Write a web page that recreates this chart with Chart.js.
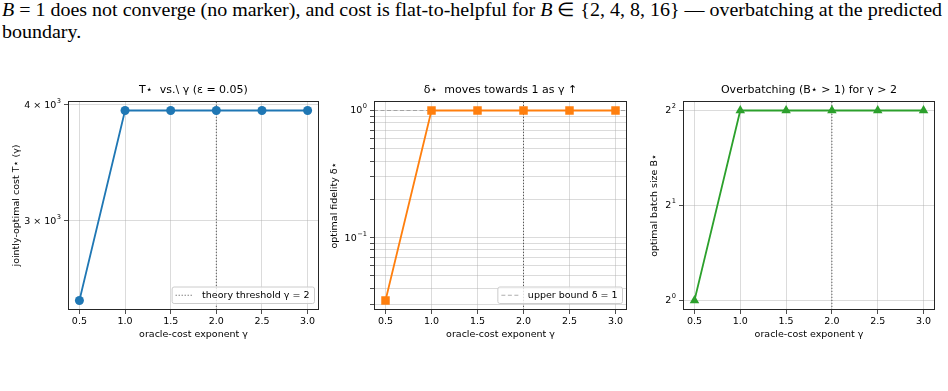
<!DOCTYPE html>
<html>
<head>
<meta charset="utf-8">
<script src="https://cdn.jsdelivr.net/npm/chart.js@4.4.0/dist/chart.umd.min.js"></script>
<style>
  html, body { margin: 0; padding: 0; background: #fff; }
  body { width: 948px; height: 391px; position: relative; overflow: hidden; }
  #texto { position: absolute; left: 2px; top: -1px; font-family: 'Liberation Serif', serif; font-size: 19px;
           line-height: 22px; color: #000; white-space: nowrap; transform-origin: 0 0; }
</style>
</head>
<body>
<div id="texto"><span id="linha1"><i>B</i> = 1 does not converge (no marker), and cost is flat-to-helpful for <i>B</i> ∈ {2, 4, 8, 16} — overbatching at the predicted</span><br>boundary.</div>
<canvas id="g1"></canvas>
<canvas id="g2"></canvas>
<canvas id="g3"></canvas>
<script>
// dados
const gamas = [0.5, 1.0, 1.5, 2.0, 2.5, 3.0];
const custoOtimo = [2460, 3945, 3945, 3945, 3945, 3945];
const fidelidadeOtima = [0.032, 1, 1, 1, 1, 1];
const loteOtimo = [1, 4, 4, 4, 4, 4];

const ticksX = [0.5, 1.0, 1.5, 2.0, 2.5, 3.0];
const ticksCusto = [3000, 4000];
const rotulosCusto = [['3 × 10', '3'], ['4 × 10', '3']];
const ticksFidelidade = [0.03, 0.04, 0.05, 0.06, 0.07, 0.08, 0.09, 0.1, 0.2, 0.3, 0.4, 0.5, 0.6, 0.7, 0.8, 0.9, 1];
const rotulosFidelidade = { 0.1: ['10', '−1'], 1: ['10', '0'] };
const ticksLote = [1, 2, 4];
const rotulosLote = [['2', '0'], ['2', '1'], ['2', '2']];

const limiarGama = 2;
const limiteDelta = 1;

const TOPO = 84, BASE = 342, AREA_TOPO = 101, AREA_BASE = 310;
const LARG_Y = 60;
const FONTE = 'DejaVu Sans';
const TAM = 9.5, TAM_TITULO = 11;
const COR_GRADE = 'rgba(176,176,176,0.45)';

function margemLin(v, f = 0.05) {
  const a = Math.min(...v), b = Math.max(...v), m = (b - a) * f;
  return [a - m, b + m];
}
function margemLog(v, f = 0.05) {
  const l = v.map(Math.log10);
  const a = Math.min(...l), b = Math.max(...l), m = (b - a) * f;
  return [10 ** (a - m), 10 ** (b + m)];
}

const moldura = {
  id: 'moldura',
  afterDraw(chart) {
    const { ctx, chartArea: a } = chart;
    ctx.save();
    ctx.strokeStyle = '#262626';
    ctx.lineWidth = 1;
    ctx.strokeRect(Math.round(a.left) + 0.5, Math.round(a.top) + 0.5,
      Math.round(a.right - a.left) - 1, Math.round(a.bottom - a.top) - 1);
    ctx.restore();
  }
};

const legendaInterna = {
  id: 'legendaInterna',
  afterDatasetsDraw(chart) {
    const d = chart.data.datasets.find(ds => ds.legenda);
    if (!d) return;
    const { ctx, chartArea: a } = chart;
    ctx.save();
    ctx.font = TAM + 'px "' + FONTE + '"';
    const tw = ctx.measureText(d.label).width;
    const w = 30 + tw + 5, h = 16.5;
    const x = a.right - 4.5 - w, y = a.bottom - 6.5 - h;
    ctx.beginPath();
    ctx.roundRect(x, y, w, h, 2);
    ctx.fillStyle = 'rgba(255,255,255,0.8)';
    ctx.fill();
    ctx.strokeStyle = '#cccccc';
    ctx.lineWidth = 1;
    ctx.stroke();
    ctx.setLineDash(d.borderDash || []);
    ctx.strokeStyle = d.borderColor;
    ctx.lineWidth = d.borderWidth;
    ctx.beginPath();
    ctx.moveTo(x + 3.5, y + h / 2);
    ctx.lineTo(x + 20.5, y + h / 2);
    ctx.stroke();
    ctx.setLineDash([]);
    ctx.fillStyle = '#000';
    ctx.textBaseline = 'middle';
    ctx.fillText(d.label, x + 30, y + h / 2 + 0.5);
    ctx.restore();
  }
};

// rótulos do eixo y com expoente (estilo mathtext)
function rotulosPotencia(rotulo) {
  return {
    id: 'rotulosPotencia',
    afterDraw(chart) {
      const { ctx, chartArea: a } = chart;
      const s = chart.scales.y;
      ctx.save();
      ctx.fillStyle = '#000';
      ctx.textBaseline = 'middle';
      ctx.textAlign = 'left';
      s.ticks.forEach(t => {
        const r = rotulo(t.value);
        if (!r) return;
        const y = s.getPixelForValue(t.value);
        ctx.font = (TAM * 0.7) + 'px "' + FONTE + '"';
        const we = ctx.measureText(r[1]).width;
        ctx.font = TAM + 'px "' + FONTE + '"';
        const wb = ctx.measureText(r[0]).width;
        const dir = a.left - 7;
        ctx.fillText(r[0], dir - we - wb - 0.5, y + 0.5);
        ctx.font = (TAM * 0.7) + 'px "' + FONTE + '"';
        ctx.fillText(r[1], dir - we, y - 3.8);
      });
      ctx.restore();
    }
  };
}

function criarPainel(p) {
  const canvas = document.getElementById(p.id);
  const esqCanvas = p.esq - LARG_Y;
  const largura = p.dir - esqCanvas + p.folga;
  const altura = BASE - TOPO;
  canvas.width = largura;
  canvas.height = altura;
  canvas.style.cssText = `position:absolute;left:${esqCanvas}px;top:${TOPO}px;width:${largura}px;height:${altura}px`;
  const [xMin, xMax] = margemLin(gamas);
  const [yMin, yMax] = margemLog(p.valores);

  const conjuntos = [{
    label: p.rotulo,
    data: gamas.map((g, i) => ({ x: g, y: p.valores[i] })),
    borderColor: p.cor, backgroundColor: p.cor, borderWidth: 1.8,
    pointStyle: p.ponto, pointRadius: p.raio, pointBorderWidth: 0,
    order: 0
  }, {
    label: 'theory threshold γ = 2',
    data: [{ x: limiarGama, y: yMin }, { x: limiarGama, y: yMax }],
    borderColor: 'rgba(0,0,0,0.6)', borderWidth: 1, borderDash: [1.2, 1.8],
    pointRadius: 0, order: 1, legenda: p.legendaLimiar
  }];
  if (p.linhaDelta) {
    conjuntos.push({
      label: 'upper bound δ = 1',
      data: [{ x: xMin, y: limiteDelta }, { x: xMax, y: limiteDelta }],
      borderColor: 'rgba(140,140,140,0.7)', borderWidth: 1.2, borderDash: [4, 2.5],
      pointRadius: 0, order: 2, legenda: true
    });
  }

  const fonteTick = { family: FONTE, size: TAM };
  return new Chart(canvas, {
    type: 'line',
    data: { datasets: conjuntos },
    options: {
      responsive: false, animation: false, devicePixelRatio: 1,
      layout: { padding: { left: 0, right: p.folga, top: 0, bottom: 0 } },
      plugins: {
        legend: { display: false },
        tooltip: { enabled: false },
        title: {
          display: true, text: p.titulo, fullSize: false, color: '#000',
          font: { family: FONTE, size: TAM_TITULO, weight: 'normal', lineHeight: 1.2 },
          padding: { top: 0, bottom: AREA_TOPO - TOPO - TAM_TITULO * 1.2 }
        }
      },
      scales: {
        x: {
          type: 'linear', min: xMin, max: xMax,
          afterBuildTicks: s => { s.ticks = ticksX.map(v => ({ value: v })); },
          afterFit: s => { s.height = BASE - AREA_BASE; s.paddingLeft = 0; s.paddingRight = 0; },
          ticks: { callback: v => v.toFixed(1), color: '#000', font: fonteTick, padding: 2, maxRotation: 0, autoSkip: false },
          grid: { color: COR_GRADE, lineWidth: 1, tickColor: '#222', tickLength: 4, tickWidth: 0.8 },
          border: { display: false },
          title: { display: true, text: 'oracle-cost exponent γ', color: '#000', font: fonteTick, padding: { top: 0, bottom: 1.3 } }
        },
        y: {
          type: 'logarithmic', min: yMin, max: yMax,
          afterBuildTicks: s => { s.ticks = p.yTicks.map(v => ({ value: v })); },
          afterFit: s => { s.width = LARG_Y; s.paddingTop = 0; s.paddingBottom = 0; },
          ticks: { callback: () => '', color: '#000', font: fonteTick, padding: 3, autoSkip: false },
          grid: { color: COR_GRADE, lineWidth: 1, tickColor: '#222', tickLength: 4, tickWidth: 0.8 },
          border: { display: false },
          title: { display: true, text: p.tituloY, color: '#000', font: fonteTick, padding: { top: p.tituloYX - esqCanvas - TAM * 0.6, bottom: 0 } }
        }
      }
    },
    plugins: [moldura, legendaInterna, rotulosPotencia(p.yRotulo)]
  });
}

function desenhar() {
  const linha = document.getElementById('linha1').getBoundingClientRect().width;
  document.getElementById('texto').style.transform = 'scaleX(' + (940 / linha) + ')';

  criarPainel({
    id: 'g1', esq: 68, dir: 319, folga: 14, tituloYX: 16.7,
    titulo: 'T⋆  vs.\\ γ (ε = 0.05)', tituloY: 'jointly-optimal cost T⋆ (γ)', rotulo: 'T⋆',
    valores: custoOtimo, cor: '#1f77b4', ponto: 'circle', raio: 4.5,
    yTicks: ticksCusto, yRotulo: (v) => rotulosCusto[ticksCusto.indexOf(v)],
    legendaLimiar: true
  });
  criarPainel({
    id: 'g2', esq: 374, dir: 627, folga: 14, tituloYX: 335,
    titulo: 'δ⋆  moves towards 1 as γ ↑', tituloY: 'optimal fidelity δ⋆', rotulo: 'δ⋆',
    valores: fidelidadeOtima, cor: '#ff7f0e', ponto: 'rect', raio: 6,
    yTicks: ticksFidelidade, yRotulo: (v) => rotulosFidelidade[v],
    linhaDelta: true
  });
  criarPainel({
    id: 'g3', esq: 683, dir: 935, folga: 13, tituloYX: 655,
    titulo: 'Overbatching (B⋆ > 1) for γ > 2', tituloY: 'optimal batch size B⋆', rotulo: 'B⋆',
    valores: loteOtimo, cor: '#2ca02c', ponto: 'triangle', raio: 5.5,
    yTicks: ticksLote, yRotulo: (v) => rotulosLote[ticksLote.indexOf(v)]
  });
}

if (document.fonts && document.fonts.ready) {
  document.fonts.ready.then(desenhar);
} else {
  desenhar();
}
</script>
</body>
</html>
